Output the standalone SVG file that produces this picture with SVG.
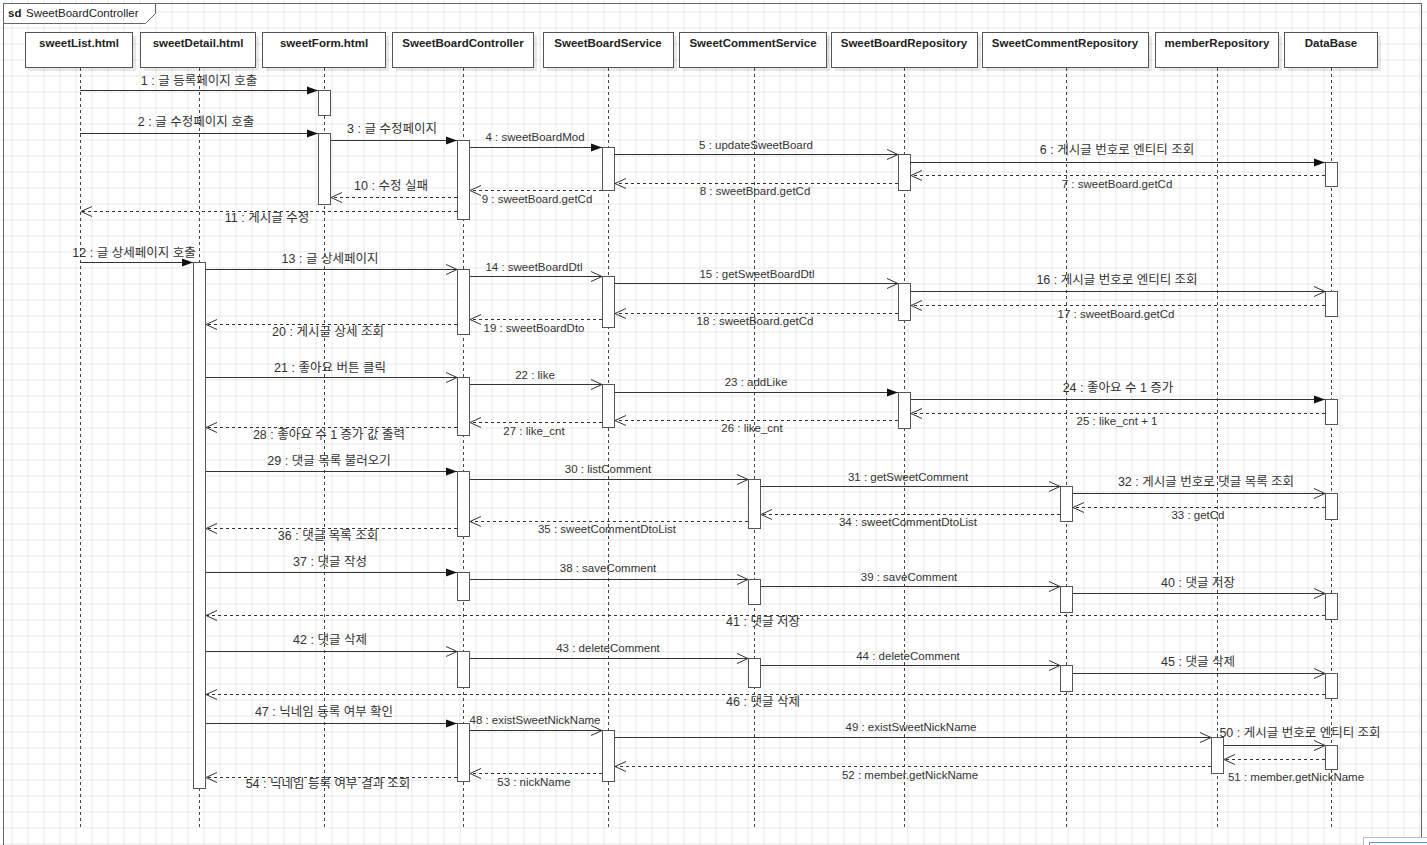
<svg xmlns="http://www.w3.org/2000/svg" width="1427" height="845" viewBox="0 0 1427 845">
<style>
.lbl{font-family:"Liberation Sans","Noto Sans CJK KR",sans-serif;font-size:11.5px;fill:#333;text-anchor:middle}
.k{font-size:12.5px}
.hd{font-family:"Liberation Sans","Noto Sans CJK KR",sans-serif;font-size:11.5px;font-weight:bold;fill:#222;text-anchor:middle}
.box{fill:#fff;stroke:#555;stroke-width:1}
.sh{fill:#000;opacity:.09}
.ll{stroke:#444;stroke-width:1;stroke-dasharray:3 3;fill:none}
.act{fill:#fff;stroke:#555;stroke-width:1}
.syn{stroke:#333;stroke-width:1;fill:none;marker-end:url(#filled)}
.opn{stroke:#333;stroke-width:1;fill:none;marker-end:url(#open)}
.ret{stroke:#333;stroke-width:1;fill:none;stroke-dasharray:3 3;marker-end:url(#open)}
</style>
<defs>
<pattern id="grid" x="11.5" y="11.5" width="16" height="16" patternUnits="userSpaceOnUse">
<path d="M0 0.5H16M0.5 0V16" stroke="#e6e6e6" stroke-width="1" fill="none"/>
</pattern>
<marker id="filled" markerUnits="userSpaceOnUse" markerWidth="12" markerHeight="9" refX="11" refY="4.5" orient="auto">
<path d="M0,0.5 L11,4.5 L0,8.5 Z" fill="#111"/>
</marker>
<marker id="open" markerUnits="userSpaceOnUse" markerWidth="12" markerHeight="11" refX="11" refY="5.5" orient="auto">
<path d="M0,0.5 L11,5.5 L0,10.5" fill="none" stroke="#333" stroke-width="1"/>
</marker>
</defs>
<rect x="0" y="0" width="1427" height="845" fill="#fff"/>
<rect x="0" y="0" width="1427" height="845" fill="url(#grid)"/>

<g id="frame">
<rect x="3.5" y="3.5" width="1418" height="870" fill="none" stroke="#666" stroke-width="1"/>
<path d="M3.5 3.5H155.5V13.5L145.5 23.5H3.5Z" fill="#fff" stroke="#666" stroke-width="1"/>
<text x="8" y="17" font-family="Liberation Sans,sans-serif" font-size="11.5" font-weight="bold" fill="#222">sd</text>
<text x="26" y="17" font-family="Liberation Sans,sans-serif" font-size="11.5" fill="#222">SweetBoardController</text>
</g>

<g id="sweetList">
<rect class="sh" x="29" y="36" width="107" height="35"/>
<rect class="box" x="25.5" y="32.5" width="107" height="35"/>
<text class="hd" x="79" y="47">sweetList.html</text>
<line class="ll" x1="80.5" y1="68" x2="80.5" y2="830"/>
</g>
<g id="sweetDetail">
<rect class="sh" x="144" y="36" width="115" height="35"/>
<rect class="box" x="140.5" y="32.5" width="115" height="35"/>
<text class="hd" x="198" y="47">sweetDetail.html</text>
<line class="ll" x1="199.5" y1="68" x2="199.5" y2="830"/>
<rect class="act" x="193.5" y="262.5" width="12" height="526"/>
</g>
<g id="sweetForm">
<rect class="sh" x="266" y="36" width="123" height="35"/>
<rect class="box" x="262.5" y="32.5" width="123" height="35"/>
<text class="hd" x="324" y="47">sweetForm.html</text>
<line class="ll" x1="324.5" y1="68" x2="324.5" y2="830"/>
<rect class="act" x="318.5" y="90.5" width="12" height="25"/>
<rect class="act" x="318.5" y="133.5" width="12" height="71"/>
</g>
<g id="SweetBoardController">
<rect class="sh" x="396" y="36" width="141" height="35"/>
<rect class="box" x="392.5" y="32.5" width="141" height="35"/>
<text class="hd" x="463" y="47">SweetBoardController</text>
<line class="ll" x1="463.5" y1="68" x2="463.5" y2="830"/>
<rect class="act" x="457.5" y="140.5" width="12" height="79"/>
<rect class="act" x="457.5" y="269.5" width="12" height="65"/>
<rect class="act" x="457.5" y="377.5" width="12" height="58"/>
<rect class="act" x="457.5" y="471.5" width="12" height="65"/>
<rect class="act" x="457.5" y="572.5" width="12" height="28"/>
<rect class="act" x="457.5" y="651.5" width="12" height="36"/>
<rect class="act" x="457.5" y="723.5" width="12" height="58"/>
</g>
<g id="SweetBoardService">
<rect class="sh" x="547" y="36" width="130" height="35"/>
<rect class="box" x="543.5" y="32.5" width="130" height="35"/>
<text class="hd" x="608" y="47">SweetBoardService</text>
<line class="ll" x1="608.5" y1="68" x2="608.5" y2="830"/>
<rect class="act" x="602.5" y="147.5" width="12" height="43"/>
<rect class="act" x="602.5" y="276.5" width="12" height="51"/>
<rect class="act" x="602.5" y="384.5" width="12" height="43"/>
<rect class="act" x="602.5" y="730.5" width="12" height="51"/>
</g>
<g id="SweetCommentService">
<rect class="sh" x="683" y="36" width="147" height="35"/>
<rect class="box" x="679.5" y="32.5" width="147" height="35"/>
<text class="hd" x="753" y="47">SweetCommentService</text>
<line class="ll" x1="754.5" y1="68" x2="754.5" y2="830"/>
<rect class="act" x="748.5" y="479.5" width="12" height="49"/>
<rect class="act" x="748.5" y="579.5" width="12" height="25"/>
<rect class="act" x="748.5" y="658.5" width="12" height="29"/>
</g>
<g id="SweetBoardRepository">
<rect class="sh" x="835" y="36" width="146" height="35"/>
<rect class="box" x="831.5" y="32.5" width="146" height="35"/>
<text class="hd" x="904" y="47">SweetBoardRepository</text>
<line class="ll" x1="904.5" y1="68" x2="904.5" y2="830"/>
<rect class="act" x="898.5" y="154.5" width="12" height="36"/>
<rect class="act" x="898.5" y="283.5" width="12" height="37"/>
<rect class="act" x="898.5" y="392.5" width="12" height="36"/>
</g>
<g id="SweetCommentRepository">
<rect class="sh" x="986" y="36" width="166" height="35"/>
<rect class="box" x="982.5" y="32.5" width="166" height="35"/>
<text class="hd" x="1065" y="47">SweetCommentRepository</text>
<line class="ll" x1="1066.5" y1="68" x2="1066.5" y2="830"/>
<rect class="act" x="1060.5" y="486.5" width="12" height="35"/>
<rect class="act" x="1060.5" y="586.5" width="12" height="26"/>
<rect class="act" x="1060.5" y="665.5" width="12" height="26"/>
</g>
<g id="memberRepository">
<rect class="sh" x="1159" y="36" width="123" height="35"/>
<rect class="box" x="1155.5" y="32.5" width="123" height="35"/>
<text class="hd" x="1217" y="47">memberRepository</text>
<line class="ll" x1="1217.5" y1="68" x2="1217.5" y2="830"/>
<rect class="act" x="1211.5" y="737.5" width="12" height="36"/>
</g>
<g id="DataBase">
<rect class="sh" x="1288" y="36" width="93" height="35"/>
<rect class="box" x="1284.5" y="32.5" width="93" height="35"/>
<text class="hd" x="1331" y="47">DataBase</text>
<line class="ll" x1="1331.5" y1="68" x2="1331.5" y2="830"/>
<rect class="act" x="1325.5" y="162.5" width="12" height="24"/>
<rect class="act" x="1325.5" y="291.5" width="12" height="25"/>
<rect class="act" x="1325.5" y="399.5" width="12" height="25"/>
<rect class="act" x="1325.5" y="493.5" width="12" height="26"/>
<rect class="act" x="1325.5" y="593.5" width="12" height="26"/>
<rect class="act" x="1325.5" y="673.5" width="12" height="25"/>
<rect class="act" x="1325.5" y="745.5" width="12" height="24"/>
</g>

<g id="connectors">
<path class="syn" d="M80 90.5H318"/>
<path class="syn" d="M80 133.5H318"/>
<path class="syn" d="M331 140.5H457"/>
<path class="syn" d="M470 147.5H602"/>
<path class="opn" d="M615 154.5H898"/>
<path class="syn" d="M911 162.5H1325"/>
<path class="ret" d="M1325 175.5H911"/>
<path class="ret" d="M898 183.5H615"/>
<path class="ret" d="M602 190.5H470"/>
<path class="ret" d="M457 197.5H331"/>
<path class="ret" d="M457 211.5H81"/>
<path class="syn" d="M80 262.5H193"/>
<path class="opn" d="M206 269.5H457"/>
<path class="opn" d="M470 276.5H602"/>
<path class="opn" d="M615 283.5H898"/>
<path class="opn" d="M911 291.5H1325"/>
<path class="ret" d="M1325 305.5H911"/>
<path class="ret" d="M898 313.5H615"/>
<path class="ret" d="M602 319.5H470"/>
<path class="ret" d="M457 324.5H206"/>
<path class="opn" d="M206 377.5H457"/>
<path class="opn" d="M470 384.5H602"/>
<path class="syn" d="M615 392.5H898"/>
<path class="syn" d="M911 399.5H1325"/>
<path class="ret" d="M1325 413.5H911"/>
<path class="ret" d="M898 420.5H615"/>
<path class="ret" d="M602 422.5H470"/>
<path class="ret" d="M457 427.5H206"/>
<path class="syn" d="M206 471.5H457"/>
<path class="opn" d="M470 479.5H748"/>
<path class="opn" d="M761 486.5H1060"/>
<path class="opn" d="M1073 493.5H1325"/>
<path class="ret" d="M1325 507.5H1073"/>
<path class="ret" d="M1060 514.5H761"/>
<path class="ret" d="M748 521.5H470"/>
<path class="ret" d="M457 528.5H206"/>
<path class="syn" d="M206 572.5H457"/>
<path class="opn" d="M470 579.5H748"/>
<path class="opn" d="M761 586.5H1060"/>
<path class="opn" d="M1073 593.5H1325"/>
<path class="ret" d="M1325 615.5H206"/>
<path class="opn" d="M206 651.5H457"/>
<path class="opn" d="M470 658.5H748"/>
<path class="opn" d="M761 665.5H1060"/>
<path class="opn" d="M1073 673.5H1325"/>
<path class="ret" d="M1325 694.5H206"/>
<path class="syn" d="M206 723.5H457"/>
<path class="opn" d="M470 730.5H602"/>
<path class="opn" d="M615 737.5H1211"/>
<path class="opn" d="M1224 745.5H1325"/>
<path class="ret" d="M1325 759.5H1224"/>
<path class="ret" d="M1211 766.5H615"/>
<path class="ret" d="M602 773.5H470"/>
<path class="ret" d="M457 777.5H206"/>

<text class="lbl k" x="199" y="85">1 : 글 등록페이지 호출</text>
<text class="lbl k" x="196" y="126">2 : 글 수정페이지 호출</text>
<text class="lbl k" x="392" y="133">3 : 글 수정페이지</text>
<text class="lbl" x="535" y="141">4 : sweetBoardMod</text>
<text class="lbl" x="756" y="149">5 : updateSweetBoard</text>
<text class="lbl k" x="1117" y="154">6 : 게시글 번호로 엔티티 조회</text>
<text class="lbl" x="1117" y="188">7 : sweetBoard.getCd</text>
<text class="lbl" x="755" y="195">8 : sweetBoard.getCd</text>
<text class="lbl" x="537" y="203">9 : sweetBoard.getCd</text>
<text class="lbl k" x="391" y="190">10 : 수정 실패</text>
<text class="lbl k" x="267" y="222">11 : 게시글 수정</text>
<text class="lbl k" x="134" y="257">12 : 글 상세페이지 호출</text>
<text class="lbl k" x="330" y="263">13 : 글 상세페이지</text>
<text class="lbl" x="534" y="271">14 : sweetBoardDtl</text>
<text class="lbl" x="757" y="278">15 : getSweetBoardDtl</text>
<text class="lbl k" x="1117" y="284">16 : 게시글 번호로 엔티티 조회</text>
<text class="lbl" x="1116" y="318">17 : sweetBoard.getCd</text>
<text class="lbl" x="755" y="325">18 : sweetBoard.getCd</text>
<text class="lbl" x="534" y="332">19 : sweetBoardDto</text>
<text class="lbl k" x="328" y="336">20 : 게시글 상세 조회</text>
<text class="lbl k" x="330" y="372">21 : 좋아요 버튼 클릭</text>
<text class="lbl" x="535" y="379">22 : like</text>
<text class="lbl" x="756" y="386">23 : addLike</text>
<text class="lbl k" x="1118" y="392">24 : 좋아요 수 1 증가</text>
<text class="lbl" x="1117" y="425">25 : like_cnt + 1</text>
<text class="lbl" x="752" y="432">26 : like_cnt</text>
<text class="lbl" x="534" y="435">27 : like_cnt</text>
<text class="lbl k" x="329" y="439">28 : 좋아요 수 1 증가 값 출력</text>
<text class="lbl k" x="329" y="465">29 : 댓글 목록 불러오기</text>
<text class="lbl" x="608" y="473">30 : listComment</text>
<text class="lbl" x="908" y="481">31 : getSweetComment</text>
<text class="lbl k" x="1206" y="486">32 : 게시글 번호로 댓글 목록 조회</text>
<text class="lbl" x="1198" y="519">33 : getCd</text>
<text class="lbl" x="908" y="526">34 : sweetCommentDtoList</text>
<text class="lbl" x="607" y="533">35 : sweetCommentDtoList</text>
<text class="lbl k" x="328" y="540">36 : 댓글 목록 조회</text>
<text class="lbl k" x="330" y="566">37 : 댓글 작성</text>
<text class="lbl" x="608" y="572">38 : saveComment</text>
<text class="lbl" x="909" y="581">39 : saveComment</text>
<text class="lbl k" x="1198" y="587">40 : 댓글 저장</text>
<text class="lbl k" x="763" y="626">41 : 댓글 저장</text>
<text class="lbl k" x="330" y="644">42 : 댓글 삭제</text>
<text class="lbl" x="608" y="652">43 : deleteComment</text>
<text class="lbl" x="908" y="660">44 : deleteComment</text>
<text class="lbl k" x="1198" y="666">45 : 댓글 삭제</text>
<text class="lbl k" x="763" y="706">46 : 댓글 삭제</text>
<text class="lbl k" x="324" y="716">47 : 닉네임 등록 여부 확인</text>
<text class="lbl" x="535" y="724">48 : existSweetNickName</text>
<text class="lbl" x="911" y="731">49 : existSweetNickName</text>
<text class="lbl k" x="1300" y="737">50 : 게시글 번호로 엔티티 조회</text>
<text class="lbl" x="1296" y="781">51 : member.getNickName</text>
<text class="lbl" x="910" y="779">52 : member.getNickName</text>
<text class="lbl" x="534" y="786">53 : nickName</text>
<text class="lbl k" x="328" y="788">54 : 닉네임 등록 여부 결과 조회</text>
</g>

<g id="corner-widget">
<rect x="1363.5" y="837.5" width="70" height="20" fill="#fff" stroke="#bbb"/>
<rect x="1369.5" y="842.5" width="60" height="10" fill="none" stroke="#5b9bd5"/>
</g>
</svg>
